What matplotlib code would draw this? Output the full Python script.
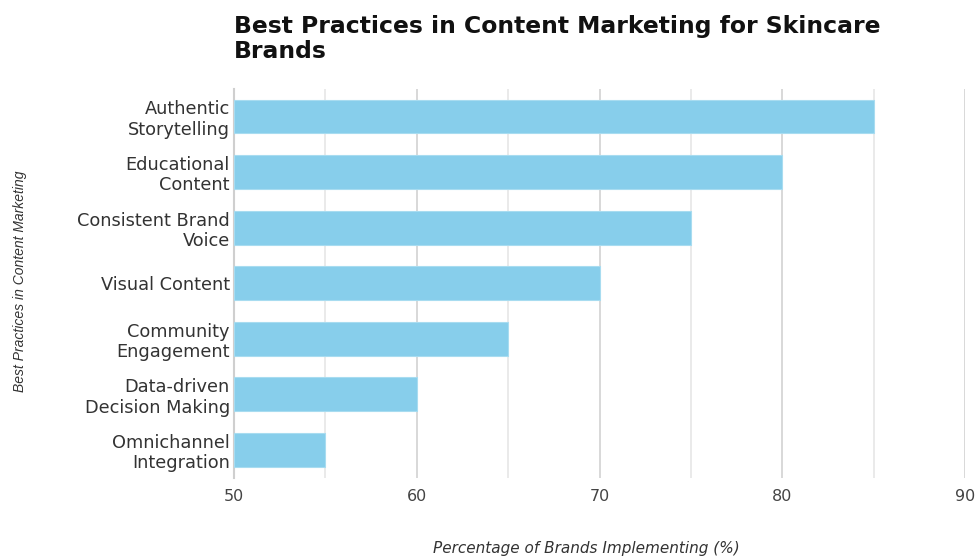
import matplotlib
matplotlib.use("Agg")
import matplotlib.pyplot as plt
from matplotlib.ticker import MultipleLocator

categories = [
    "Authentic\nStorytelling",
    "Educational\nContent",
    "Consistent Brand\nVoice",
    "Visual Content",
    "Community\nEngagement",
    "Data-driven\nDecision Making",
    "Omnichannel\nIntegration",
]
values = [85, 80, 75, 70, 65, 60, 55]

title = "Best Practices in Content Marketing for Skincare\nBrands"
x_label = "Percentage of Brands Implementing (%)"
y_label = "Best Practices in Content Marketing"

plt.rcParams["font.family"] = ["DejaVu Sans"]

W, H = 977, 557
fig = plt.figure(figsize=(W / 100, H / 100), dpi=100)
left, right, top, bottom = 234, 965, 88.7, 477.8
ax = fig.add_axes([left / W, 1 - bottom / H, (right - left) / W, (bottom - top) / H])

pos = list(range(len(categories)))
ax.barh(pos, [v - 50 for v in values], left=50, height=0.61,
        color="#87CEEB", edgecolor="#A8DCF0", linewidth=0.8, zorder=3)

ax.set_xlim(50, 90)
ax.set_ylim(len(categories) - 0.5, -0.5)
ax.xaxis.set_major_locator(MultipleLocator(10))
ax.xaxis.set_minor_locator(MultipleLocator(5))
ax.grid(axis="x", which="major", color="#d2d2d2", linewidth=1.2, zorder=0)
ax.grid(axis="x", which="minor", color="#e6e6e6", linewidth=1.2, zorder=0)
ax.set_axisbelow(True)

for s in ["top", "right", "bottom"]:
    ax.spines[s].set_visible(False)
ax.spines["left"].set_color("#cfcfcf")
ax.spines["left"].set_linewidth(1.5)

ax.set_yticks(pos)
ax.set_yticklabels(categories, fontsize=12.8, color="#333333", linespacing=1.15)
ax.tick_params(axis="y", length=0, pad=3)
ax.tick_params(axis="x", which="both", length=0, pad=8, labelsize=11.5, labelcolor="#444444")

fig.text(left / W, 1 - 15.5 / H, title, fontsize=16.9, fontweight="bold",
         ha="left", va="top", color="#111111", linespacing=1.1)
fig.text(586 / W, 1 - 549 / H, x_label, fontsize=11, style="italic",
         ha="center", va="center", color="#333333")
fig.text(20 / W, 1 - 281 / H, y_label, fontsize=10, style="italic",
         family=["Liberation Sans"], rotation=90, ha="center", va="center",
         color="#333333")

fig.savefig("out.png", dpi=100, facecolor="white")
